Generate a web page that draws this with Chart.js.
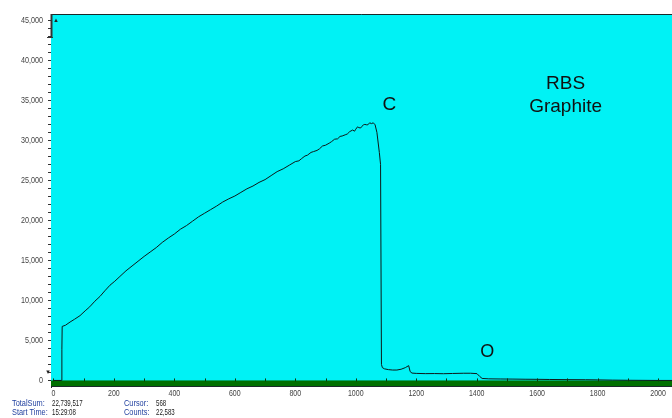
<!DOCTYPE html>
<html><head><meta charset="utf-8">
<script src="https://cdn.jsdelivr.net/npm/chart.js@4.4.0/dist/chart.umd.min.js"></script>
<style>
html,body{margin:0;padding:0;background:#fff;}
#wrap{position:relative;width:672px;height:418px;overflow:hidden;}
.st{position:absolute;font:9px 'Liberation Sans',Arial,sans-serif;white-space:nowrap;line-height:9px;transform-origin:0 0;}
.lb{color:#1f3f9f;transform:scaleX(0.82);}
.vl{color:#1a1a1a;transform:scaleX(0.68);}
</style></head><body>
<div id="wrap">
<canvas id="c" width="672" height="418"></canvas>
<div class="st lb" style="left:12px;top:399px;">TotalSum:</div>
<div class="st vl" style="left:52px;top:399px;">22,739,517</div>
<div class="st lb" style="left:12px;top:408px;">Start Time:</div>
<div class="st vl" style="left:52px;top:408px;">15:29:08</div>
<div class="st lb" style="left:124px;top:399px;">Cursor:</div>
<div class="st vl" style="left:156px;top:399px;">568</div>
<div class="st lb" style="left:124px;top:408px;">Counts:</div>
<div class="st vl" style="left:156px;top:408px;">22,583</div>
</div>
<script>
// Channel numbers (x) and counts (y)
const channels = [0,27,28,29,40,55,70,88,105,120,137,154,170,187,203,220,240,260,280,300,320,340,360,380,400,420,440,460,480,500,520,540,560,580,600,620,640,660,680,700,720,740,760,780,800,812,820,832,840,852,860,872,880,890,900,912,920,930,940,948,955,965,972,980,990,996,1000,1006,1010,1016,1020,1026,1030,1036,1040,1046,1052,1058,1064,1070,1078,1082,1085,1088,1095,1108,1122,1136,1150,1164,1175,1180,1186,1200,1230,1260,1290,1320,1357,1380,1401,1410,1418,1440,1480,1520,1560,1600,1640,1700,1760,1800,1850,1900,1950,2000,2046];
const counts   = [0,0,3900,6750,6900,7300,7650,8100,8700,9200,9900,10500,11200,11900,12400,13000,13700,14300,14900,15500,16050,16600,17250,17800,18300,18900,19350,19900,20450,20900,21350,21800,22300,22700,23050,23500,23950,24300,24750,25100,25600,26100,26450,26900,27350,27450,27700,28050,28150,28500,28600,28750,28950,29300,29400,29650,29850,30150,30200,30500,30550,30700,30800,31100,31300,31150,31400,31700,31600,31550,31750,31950,32000,31950,31950,32200,32100,32200,31950,31000,28500,27000,2000,1600,1450,1350,1300,1300,1400,1600,1850,1100,920,880,850,860,840,870,900,900,850,500,250,200,180,170,150,140,120,100,90,70,40,20,10,0,0];
const xTickLabels = [0,200,400,600,800,1000,1200,1400,1600,1800,2000];
const yTickLabels = [0,5000,10000,15000,20000,25000,30000,35000,40000,45000];
const annotations = [
  {text:'C', x:1111, y:34450, size:19},
  {text:'RBS', x:1694, y:37050, size:19},
  {text:'Graphite', x:1694, y:34150, size:19},
  {text:'O', x:1435, y:3600, size:18}
];

const bgPlugin = {
  id:'bg',
  beforeDatasetsDraw(chart){
    const {ctx, chartArea:a, scales:{y}} = chart;
    ctx.save();
    ctx.fillStyle = '#00f2f5';
    ctx.fillRect(a.left, a.top, a.right-a.left, a.bottom-a.top);
    const y0 = y.getPixelForValue(0);
    ctx.fillStyle = '#007000';
    ctx.fillRect(a.left, y0, a.right-a.left, a.bottom-y0);
    ctx.restore();
  },
  afterDatasetsDraw(chart){
    const {ctx, chartArea:a, scales:{x,y}} = chart;
    ctx.save();
    ctx.strokeStyle = '#1a2a2a';
    ctx.lineWidth = 1;
    ctx.beginPath();
    ctx.moveTo(a.left, a.top+0.5); ctx.lineTo(a.right, a.top+0.5);
    ctx.moveTo(a.left, a.bottom-0.5); ctx.lineTo(a.right, a.bottom-0.5);
    ctx.stroke();
    const y0 = y.getPixelForValue(0);
    ctx.strokeStyle = '#0a3a0a';
    ctx.beginPath();
    for (let v=0; v<=2000; v+=100){
      const px = Math.round(x.getPixelForValue(v))+0.5;
      ctx.moveTo(px, y0-2); ctx.lineTo(px, y0+1);
    }
    ctx.stroke();
    // scroll markers on y axis
    ctx.fillStyle = '#222';
    ctx.font = "7px 'DejaVu Sans'";
    ctx.textAlign='center'; ctx.textBaseline='middle';
    ctx.fillText('\u25B4', a.left+5, a.top+6);
    ctx.fillText('\u25BE', a.left-3, y0-8);
    ctx.strokeStyle='#333';
    ctx.beginPath();
    ctx.moveTo(a.left-4, a.top+23.5); ctx.lineTo(a.left+2, a.top+23.5);
    ctx.stroke();
    ctx.lineWidth=2;
    ctx.beginPath();
    ctx.moveTo(a.left+0.5, a.top); ctx.lineTo(a.left+0.5, a.top+23);
    ctx.stroke();
    // tick labels (condensed look)
    ctx.fillStyle = '#444';
    ctx.font = "9px 'Liberation Sans',Arial,sans-serif";
    ctx.textBaseline='middle';
    ctx.textAlign='right';
    for (const v of yTickLabels){
      ctx.save();
      ctx.translate(43, y.getPixelForValue(v));
      ctx.scale(0.8,1);
      ctx.fillText(v.toLocaleString('en-US'), 0, 0);
      ctx.restore();
    }
    ctx.textAlign='center';
    for (const v of xTickLabels){
      ctx.save();
      ctx.translate(x.getPixelForValue(v), 394);
      ctx.scale(0.78,1);
      ctx.fillText(String(v), 0, 0);
      ctx.restore();
    }
    // annotations
    ctx.fillStyle = '#111';
    ctx.textAlign='center'; ctx.textBaseline='middle';
    for (const an of annotations){
      ctx.font = an.size + "px 'Liberation Sans',Arial,sans-serif";
      ctx.fillText(an.text, x.getPixelForValue(an.x), y.getPixelForValue(an.y));
    }
    ctx.restore();
  }
};

new Chart(document.getElementById('c'), {
  type:'line',
  data:{datasets:[{
    data: channels.map((c,i)=>({x:c, y:counts[i]})),
    borderColor:'#0d1a1a', borderWidth:1, pointRadius:0, tension:0, fill:false
  }]},
  options:{
    responsive:false, animation:false,
    layout:{padding:{top:14,left:0,right:0,bottom:0}},
    plugins:{legend:{display:false}, tooltip:{enabled:false}},
    scales:{
      x:{
        type:'linear', min:-8, max:2046,
        afterFit(s){ s.height = 31; },
        afterBuildTicks(s){ s.ticks = xTickLabels.map(v=>({value:v})); },
        ticks:{display:false},
        grid:{display:false, drawTicks:false},
        border:{display:false}
      },
      y:{
        type:'linear', min:-820, max:45800,
        afterFit(s){ s.width = 51; },
        afterBuildTicks(s){
          const t=[];
          for(let v=0; v<=45000; v+=1000) t.push({value:v});
          s.ticks = t;
        },
        ticks:{display:false},
        grid:{drawOnChartArea:false, drawTicks:true, tickLength:3, color:'#333'},
        border:{display:true, color:'#1a2a2a', width:1}
      }
    }
  },
  plugins:[bgPlugin]
});
</script>
</body></html>
